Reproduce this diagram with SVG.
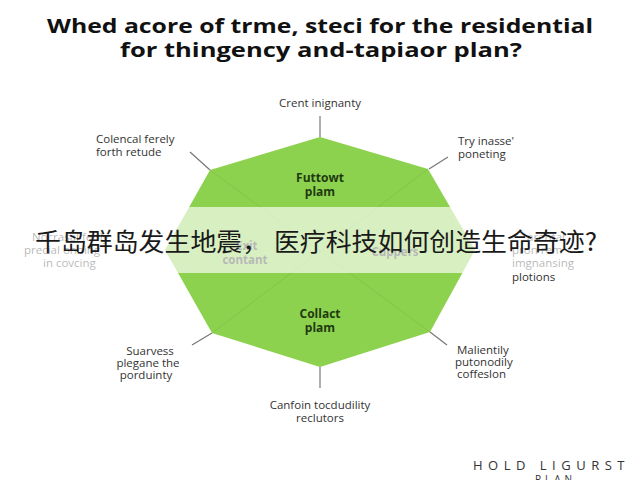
<svg xmlns="http://www.w3.org/2000/svg" width="640" height="480" viewBox="0 0 640 480">
<style>
.t{font-family:"Open Sans","Liberation Sans",sans-serif;font-size:11.5px;fill:#333}
.ti{font-family:"Open Sans","Liberation Sans",sans-serif;font-size:20px;font-weight:bold;fill:#111;text-anchor:middle}
.in{font-family:"Open Sans","Liberation Sans",sans-serif;font-size:12px;font-weight:bold;fill:#1f3a10;text-anchor:middle}
.c{text-anchor:middle}
.ln{stroke:#777;stroke-width:1.2;fill:none}
.sp{stroke:#7fbf45;stroke-width:1;fill:none;opacity:0.7}
</style>
<rect width="640" height="480" fill="#fff"/>
<g id="title">
<text class="ti" x="320" y="33" textLength="546" lengthAdjust="spacingAndGlyphs">Whed acore of trme, steci for the residential</text>
<text class="ti" x="321" y="57" textLength="402" lengthAdjust="spacingAndGlyphs">for thingency and-tapiaor plan?</text>
</g>
<g id="octagon">
<polygon points="320,137 428,169 475,250 430,332 320,367 212,333 165,250 210,170" fill="#8dd24f"/>
<path class="sp" d="M210,170 L430,332 M428,169 L212,333"/>
<text class="in" x="320" y="182">Futtowt</text>
<text class="in" x="320" y="196">plam</text>
<text class="in" x="320" y="318">Collact</text>
<text class="in" x="320" y="332">plam</text>
</g>
<g id="connectors">
<path class="ln" d="M320,116 L320,137 M190,152 L210,170 M448,157 L429,169 M192,345 L212,333 M447,345 L430,332 M320,367 L320,388"/>
</g>
<g id="labels">
<text class="t" x="96" y="143">Colencal ferely</text>
<text class="t" x="96" y="156">forth retude</text>
<text class="t c" x="320" y="107">Crent inignanty</text>
<text class="t" x="458" y="145">Try inasse'</text>
<text class="t" x="458" y="158">poneting</text>
<text class="t" x="32" y="241" fill="#888">Nocrasal ferily</text>
<text class="t" x="24" y="254" fill="#888">precial onning</text>
<text class="t" x="43" y="267" fill="#777">in covcing</text>
<text class="t" x="527" y="241" fill="#888">arental</text>
<text class="t" x="512" y="254" fill="#888">pron rem</text>
<text class="t" x="512" y="267" fill="#777">imgnansing</text>
<text class="t" x="512" y="281">plotions</text>
<text class="t" x="236" y="250" fill="#999" font-weight="bold">Exit</text>
<text class="t c" x="245" y="264" fill="#999" font-weight="bold">contant</text>
<text class="t c" x="395" y="256" fill="#999" font-weight="bold">Cuppers</text>
<text class="t c" x="150" y="355">Suarvess</text>
<text class="t c" x="148" y="367">plegane the</text>
<text class="t c" x="146" y="379">porduinty</text>
<text class="t" x="457" y="354">Malientily</text>
<text class="t" x="455" y="366">putonodily</text>
<text class="t" x="457" y="378">coffeslon</text>
<text class="t c" x="320" y="409">Canfoin tocdudility</text>
<text class="t c" x="320" y="422">reclutors</text>
</g>
<rect x="0" y="207" width="640" height="66" fill="#fff" opacity="0.65"/>
<text x="35" y="251" font-family="'Noto Sans CJK SC',sans-serif" font-size="25" fill="#1a1a1a" textLength="562" lengthAdjust="spacingAndGlyphs">千岛群岛发生地震， 医疗科技如何创造生命奇迹?</text>
<g id="footer">
<text x="473" y="470" font-family="'Open Sans','Liberation Sans',sans-serif" font-size="13" fill="#333" letter-spacing="5.5">HOLD LIGURST</text>
<text x="535" y="483" font-family="'Open Sans','Liberation Sans',sans-serif" font-size="10" fill="#333" letter-spacing="4">PLAN</text>
</g>
</svg>
